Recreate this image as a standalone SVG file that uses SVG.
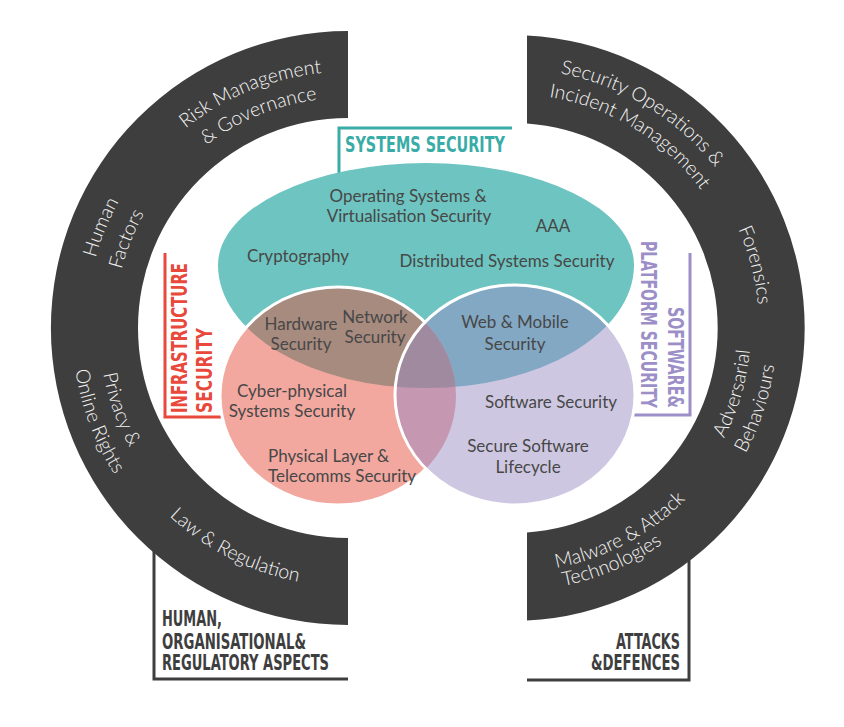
<svg xmlns="http://www.w3.org/2000/svg" xmlns:xlink="http://www.w3.org/1999/xlink" width="844" height="727" viewBox="0 0 844 727">
<style>
.ring{fill:#3e3e3e}
.rt{font-family:Lato,"Open Sans","Liberation Sans",sans-serif;font-weight:300;font-size:19.5px;fill:#f4f4f4;text-anchor:middle}
.vt{font-family:Lato,"Open Sans","Liberation Sans",sans-serif;font-weight:400;font-size:17px;fill:#474747;text-anchor:middle}
.lb{font-family:"Liberation Sans Narrow","DejaVu Sans Condensed",Roboto,sans-serif;font-weight:bold}
.frame{fill:none;stroke:#3e3e3e;stroke-width:3}
</style>
<defs>
<path id="teal" d="M 218 265 A 208 102 0 0 1 634 265 A 208 123 0 0 1 218 265 Z"/>
<clipPath id="cTeal"><use xlink:href="#teal"/></clipPath>
<clipPath id="cPink"><ellipse cx="338" cy="396" rx="118" ry="109"/></clipPath>
<path id="L256" d="M 602 328 A 256 256 0 1 1 90 328 A 256 256 0 1 1 602 328"/>
<path id="L230" d="M 576 328 A 230 230 0 1 1 116 328 A 230 230 0 1 1 576 328"/>
<path id="L260" d="M 606 328 A 260 260 0 1 1 86 328 A 260 260 0 1 1 606 328"/>
<path id="L232" d="M 578 328 A 232 232 0 1 1 114 328 A 232 232 0 1 1 578 328"/>
<path id="K247" d="M 593 328 A 247 247 0 1 0 99 328 A 247 247 0 1 0 593 328"/>
<path id="K274" d="M 620 328 A 274 274 0 1 0 72 328 A 274 274 0 1 0 620 328"/>
<path id="K258" d="M 604 328 A 258 258 0 1 0 88 328 A 258 258 0 1 0 604 328"/>
<path id="R259" d="M 253 328 A 259 259 0 1 1 771 328 A 259 259 0 1 1 253 328"/>
<path id="R234" d="M 278 328 A 234 234 0 1 1 746 328 A 234 234 0 1 1 278 328"/>
<path id="R247" d="M 265 328 A 247 247 0 1 1 759 328 A 247 247 0 1 1 265 328"/>
<path id="Q239" d="M 273 328 A 239 239 0 1 0 751 328 A 239 239 0 1 0 273 328"/>
<path id="Q265" d="M 247 328 A 265 265 0 1 0 777 328 A 265 265 0 1 0 247 328"/>
<path id="Q244" d="M 268 328 A 244 244 0 1 0 756 328 A 244 244 0 1 0 268 328"/>
<path id="Q263" d="M 249 328 A 263 263 0 1 0 775 328 A 263 263 0 1 0 249 328"/>
</defs>

<g id="connectors">
<polyline class="frame" points="154,538 154,679 348,679"/>
<polyline class="frame" points="689,545 689,680 527,680"/>
<polyline fill="none" stroke="#3aaca7" stroke-width="3" points="339,173 339,128 512,128"/>
<polyline fill="none" stroke="#e8493b" stroke-width="3" points="165,253 165,417 222,417"/>
<polyline fill="none" stroke="#9c8fc8" stroke-width="3" points="690,253 690,415 633,415"/>
</g>

<g id="ring-left">
<path class="ring" d="M 348 31 A 297 297 0 1 0 348 625 L 348 538 A 210 210 0 1 1 348 118 Z"/>
<text class="rt"><textPath xlink:href="#L256" startOffset="1107">Risk Management</textPath></text>
<text class="rt"><textPath xlink:href="#L230" startOffset="994">&amp; Governance</textPath></text>
<text class="rt"><textPath xlink:href="#L260" startOffset="918">Human</textPath></text>
<text class="rt"><textPath xlink:href="#L232" startOffset="818">Factors</textPath></text>
<text class="rt"><textPath xlink:href="#K247" startOffset="861">Privacy &amp;</textPath></text>
<text class="rt"><textPath xlink:href="#K274" startOffset="959">Online Rights</textPath></text>
<text class="rt"><textPath xlink:href="#K258" startOffset="1094">Law &amp; Regulation</textPath></text>
</g>

<g id="ring-right">
<path class="ring" d="M 527 35.4 A 293 293 0 0 1 527 620.6 L 527 532.5 A 205 205 0 0 0 527 123.5 Z"/>
<text class="rt"><textPath xlink:href="#R259" startOffset="548">Security Operations &amp;</textPath></text>
<text class="rt"><textPath xlink:href="#R234" startOffset="496">Incident Management</textPath></text>
<text class="rt"><textPath xlink:href="#R247" startOffset="713">Forensics</textPath></text>
<text class="rt"><textPath xlink:href="#Q239" startOffset="682">Adversarial</textPath></text>
<text class="rt"><textPath xlink:href="#Q265" startOffset="748">Behaviours</textPath></text>
<text class="rt"><textPath xlink:href="#Q244" startOffset="502">Malware &amp; Attack</textPath></text>
<text class="rt"><textPath xlink:href="#Q263" startOffset="519">Technologies</textPath></text>
</g>

<g id="label-human">
<text class="lb" fill="#3e3e3e" font-size="21" x="162" y="626" textLength="60" lengthAdjust="spacingAndGlyphs">HUMAN,</text>
<text class="lb" fill="#3e3e3e" font-size="21" x="162" y="649" textLength="144" lengthAdjust="spacingAndGlyphs">ORGANISATIONAL&amp;</text>
<text class="lb" fill="#3e3e3e" font-size="21" x="162" y="670" textLength="167" lengthAdjust="spacingAndGlyphs">REGULATORY ASPECTS</text>
</g>
<g id="label-attacks">
<text class="lb" fill="#3e3e3e" font-size="21" x="616" y="649" textLength="64" lengthAdjust="spacingAndGlyphs">ATTACKS</text>
<text class="lb" fill="#3e3e3e" font-size="21" x="591" y="670" textLength="89" lengthAdjust="spacingAndGlyphs">&amp;DEFENCES</text>
</g>

<g id="venn">
<use xlink:href="#teal" fill="#6dc4c0"/>
<ellipse cx="338" cy="396" rx="118" ry="109" fill="#f2a89f"/>
<ellipse cx="338" cy="396" rx="118" ry="109" fill="#a78b7f" clip-path="url(#cTeal)"/>
<ellipse cx="338" cy="396" rx="118" ry="109" fill="none" stroke="#ffffff" stroke-width="3"/>
<ellipse cx="515" cy="395" rx="120" ry="110" fill="#cec7e2"/>
<ellipse cx="515" cy="395" rx="120" ry="110" fill="#83a8c3" clip-path="url(#cTeal)"/>
<ellipse cx="515" cy="395" rx="120" ry="110" fill="#c597b1" clip-path="url(#cPink)"/>
<g clip-path="url(#cTeal)"><ellipse cx="515" cy="395" rx="120" ry="110" fill="#a08a9f" clip-path="url(#cPink)"/></g>
<ellipse cx="515" cy="395" rx="120" ry="110" fill="none" stroke="#ffffff" stroke-width="3"/>
</g>

<g id="systems-security">
<text class="lb" fill="#3aaca7" font-size="22" x="345" y="152" textLength="160" lengthAdjust="spacingAndGlyphs">SYSTEMS SECURITY</text>
<text class="vt" x="408" y="202">Operating Systems &amp;</text>
<text class="vt" x="409" y="222">Virtualisation Security</text>
<text class="vt" x="553" y="232">AAA</text>
<text class="vt" x="298" y="262">Cryptography</text>
<text class="vt" x="507" y="267">Distributed Systems Security</text>
</g>

<g id="infrastructure-security">
<text class="lb" fill="#e8493b" font-size="21" transform="translate(187,413) rotate(-90)" textLength="150" lengthAdjust="spacingAndGlyphs">INFRASTRUCTURE</text>
<text class="lb" fill="#e8493b" font-size="21" transform="translate(212,413) rotate(-90)" textLength="85" lengthAdjust="spacingAndGlyphs">SECURITY</text>
<text class="vt" x="301" y="330">Hardware</text>
<text class="vt" x="301" y="350">Security</text>
<text class="vt" x="375" y="323">Network</text>
<text class="vt" x="375" y="343">Security</text>
<text class="vt" x="292" y="397">Cyber-physical</text>
<text class="vt" x="292" y="417">Systems Security</text>
<text class="vt" x="268" y="462" style="text-anchor:start">Physical Layer &amp;</text>
<text class="vt" x="268" y="482" style="text-anchor:start">Telecomms Security</text>
</g>

<g id="software-platform-security">
<text class="lb" fill="#9c8fc8" font-size="22" transform="translate(668,307) rotate(90)" textLength="101" lengthAdjust="spacingAndGlyphs">SOFTWARE&amp;</text>
<text class="lb" fill="#9c8fc8" font-size="20.5" transform="translate(641,241) rotate(90)" textLength="167" lengthAdjust="spacingAndGlyphs">PLATFORM SECURITY</text>
<text class="vt" x="515" y="328">Web &amp; Mobile</text>
<text class="vt" x="515" y="350">Security</text>
<text class="vt" x="551" y="408">Software Security</text>
<text class="vt" x="528" y="452">Secure Software</text>
<text class="vt" x="528" y="473">Lifecycle</text>
</g>
</svg>
